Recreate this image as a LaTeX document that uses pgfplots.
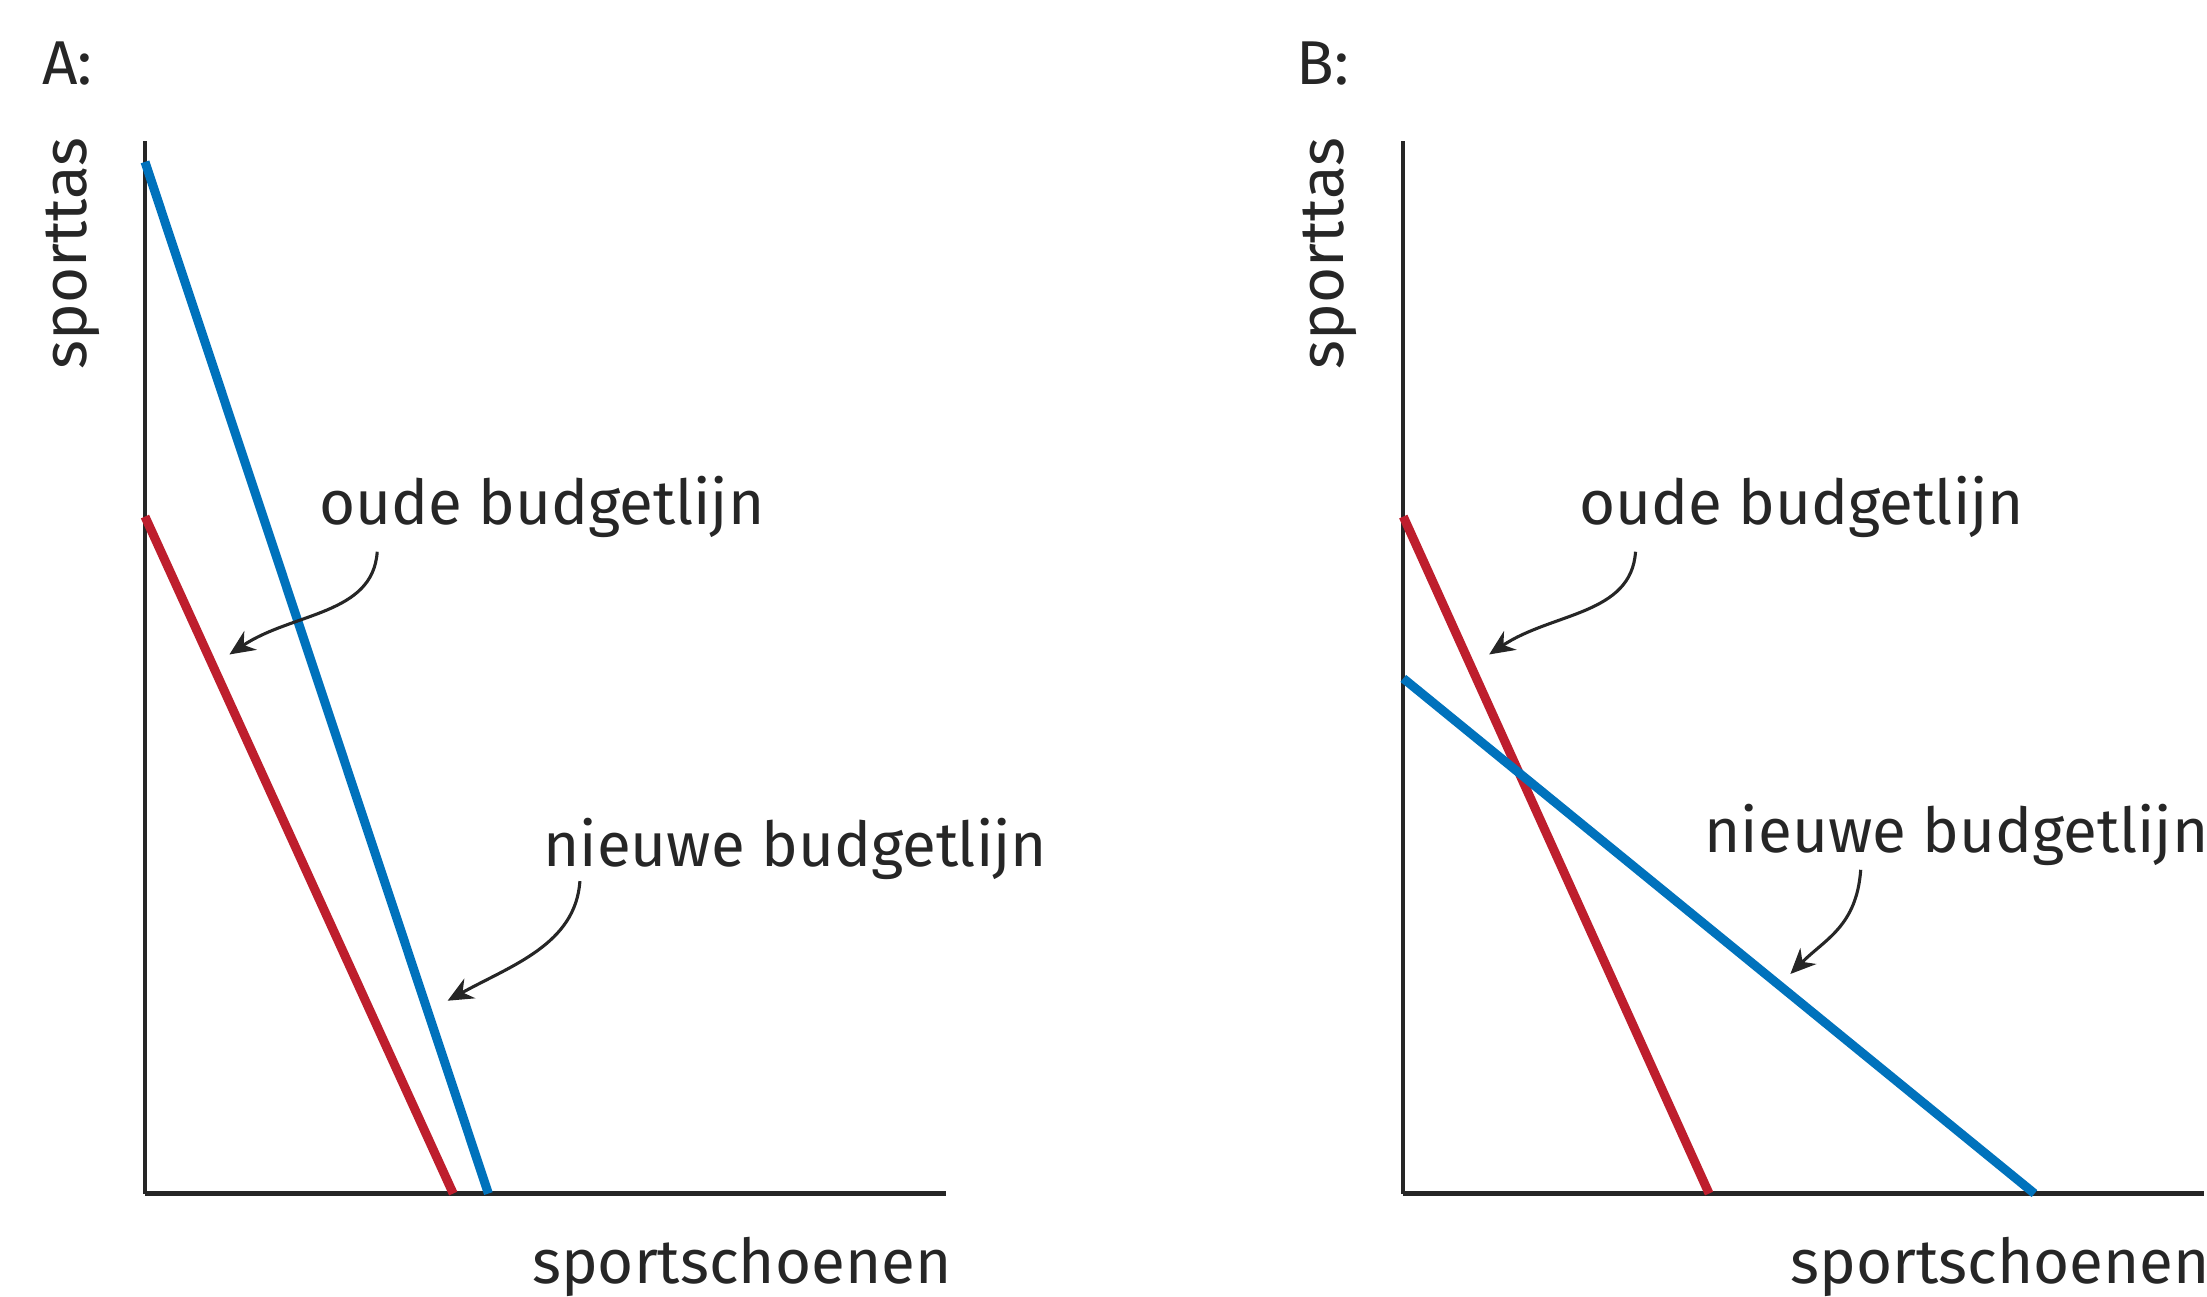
\documentclass[border=0pt]{standalone}
\usepackage{pgfplots}
\pgfplotsset{compat=1.18}
\usepackage{fontspec}
\setmainfont{Fira Sans}
\usetikzlibrary{arrows.meta}
\definecolor{bblue}{RGB}{0,114,188}
\definecolor{rred}{RGB}{190,30,45}
\begin{document}
\begin{tikzpicture}
\pgfplotsset{budget/.style={
  scale only axis, width=142.25pt, height=187pt,
  xmin=0, ymin=0, ymax=748,
  axis x line=bottom, axis y line=left,
  axis line style={-, line width=0.75pt, black!85},
  xtick=\empty, ytick=\empty, clip=false}}
\begin{axis}[budget, xmax=569, at={(0pt,0pt)}]
\addplot[rred, line width=1.6pt] coordinates {(0,481) (219,0)};
\addplot[bblue, line width=1.6pt] coordinates {(0,733) (244,0)};
\end{axis}
\begin{axis}[budget, xmax=571, at={(223.5pt,0pt)}]
\addplot[rred, line width=1.6pt] coordinates {(0,481) (218,0)};
\addplot[bblue, line width=1.6pt] coordinates {(0,366) (450,0)};
\end{axis}
\begin{scope}[x=0.25pt,y=0.25pt,font=\fontsize{11}{13}\selectfont, text=black!85]
\node at (-55,803) {A:};
\node at (837,803) {B:};
\node[rotate=90] at (-51,668) {sporttas};
\node[rotate=90] at (842,668) {sporttas};
\node at (424,-52) {sportschoenen};
\node at (1318,-52) {sportschoenen};
\node at (282,488) {oude budgetlijn};
\node at (1177,488) {oude budgetlijn};
\node at (462,245) {nieuwe budgetlijn};
\node at (1287,255) {nieuwe budgetlijn};
\begin{scope}[line width=0.55pt, black!85, -{Stealth[length=4.5pt,width=4pt]}]
\draw (165,456) .. controls +(-3,-45) and +(45,30) .. (60,383);
\draw (309,222) .. controls +(-3,-45) and +(45,25) .. (215,137);
\draw (1059,456) .. controls +(-3,-45) and +(45,30) .. (955,383);
\draw (1219,230) .. controls +(-3,-40) and +(25,25) .. (1169,156);
\end{scope}
\pgfresetboundingbox
\path (-103,-73) rectangle (1465,848);
\end{scope}
\end{tikzpicture}
\end{document}
